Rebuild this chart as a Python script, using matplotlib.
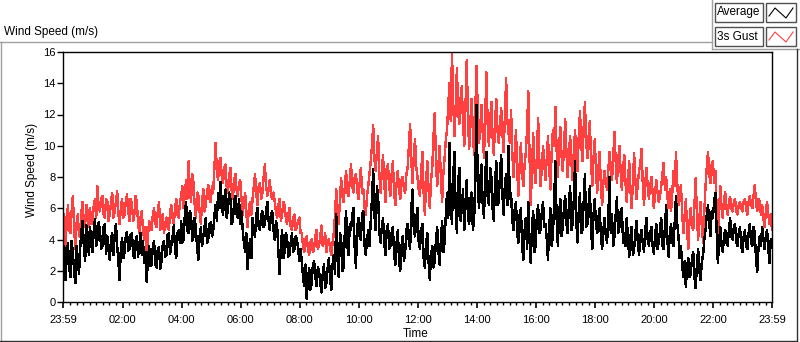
import matplotlib
matplotlib.use("Agg")
import matplotlib.pyplot as plt
import numpy as np
from matplotlib.patches import Rectangle
from matplotlib.lines import Line2D

plt.rcParams['font.family'] = ['Liberation Sans', 'DejaVu Sans']

# readings on the 5-minute marks, 23:59 (previous day) to 23:59
average = [
    2.5, 1.4, 3.8, 1.6, 3.2, 1.2, 2.8, 3.5, 5.2, 2.6, 4.4, 4.8,
    3.2, 5.3, 4.0, 4.6, 3.6, 5.0, 4.2, 2.7, 4.4, 4.3, 3.6, 1.4,
    4.1, 3.2, 4.5, 3.4, 4.4, 2.8, 4.2, 3.6, 3.0, 2.5, 1.3, 3.6,
    2.4, 3.9, 2.2, 3.5, 2.6, 3.9, 3.0, 4.4, 3.6, 4.9, 2.8, 4.6,
    5.2, 4.0, 6.4, 4.4, 5.6, 4.2, 4.6, 2.7, 4.8, 4.2, 5.4, 4.0,
    5.1, 4.5, 6.2, 7.0, 7.7, 5.6, 7.2, 6.0, 6.6, 5.2, 6.8, 5.4,
    5.0, 4.6, 3.2, 2.1, 4.0, 5.4, 4.2, 6.0, 4.6, 5.8, 5.0, 6.4,
    4.6, 5.8, 4.0, 4.8, 1.8, 4.6, 3.2, 4.2, 3.0, 4.4, 3.4, 4.0,
    2.6, 2.6, 1.0, 0.2, 2.2, 1.2, 2.6, 1.0, 2.0, 0.6, 2.4, 1.2,
    2.8, 0.8, 3.0, 5.6, 1.6, 4.0, 2.2, 5.8, 3.0, 4.6, 6.0, 2.2,
    5.4, 4.0, 5.8, 3.0, 4.6, 5.2, 8.5, 4.6, 6.8, 3.8, 5.4, 3.0,
    5.0, 3.6, 4.8, 2.4, 4.6, 2.0, 4.2, 3.2, 5.0, 3.4, 7.2, 4.2,
    6.0, 3.4, 5.0, 2.2, 4.4, 1.4, 3.6, 2.6, 4.8, 2.4, 5.2, 3.8,
    7.0, 10.2, 5.0, 9.6, 4.4, 8.6, 6.0, 4.6, 7.8, 5.0, 7.0, 5.2,
    12.6, 6.0, 8.8, 5.4, 9.6, 6.2, 8.0, 5.2, 9.0, 6.4, 9.4, 5.6,
    8.2, 10.0, 7.0, 4.6, 6.4, 3.8, 6.0, 2.7, 5.4, 6.4, 2.5, 5.8,
    3.6, 6.2, 4.6, 6.4, 5.0, 2.7, 6.0, 4.2, 9.0, 3.6, 6.6, 4.8,
    6.8, 4.4, 7.4, 5.0, 9.0, 3.8, 7.0, 4.6, 8.2, 5.0, 7.4, 3.4,
    6.6, 4.4, 6.0, 3.4, 5.4, 3.8, 8.0, 5.6, 4.2, 6.7, 4.8, 6.0,
    4.4, 5.4, 2.9, 4.8, 3.4, 5.2, 3.0, 4.6, 3.2, 5.4, 3.6, 4.8,
    3.1, 5.0, 3.8, 5.4, 3.4, 6.2, 2.9, 5.0, 3.6, 6.8, 4.2, 3.6,
    1.6, 0.95, 2.8, 1.8, 3.2, 0.9, 3.4, 1.4, 3.0, 4.6, 6.2, 4.2,
    5.4, 7.0, 2.5, 4.8, 3.2, 4.6, 3.6, 5.4, 4.0, 5.0, 3.6, 4.8,
    3.2, 4.6, 3.4, 5.0, 3.6, 4.4, 1.9, 4.2, 4.8, 3.4, 4.6, 2.5,
    3.8,
]
# readings half way between the 5-minute marks
average_half = [
    3.6, 2.9, 2.2, 3.9, 2.0, 3.6, 1.8, 4.6, 3.4, 4.9, 3.0, 3.6,
    4.6, 3.6, 5.1, 3.4, 4.8, 3.1, 3.3, 4.0, 3.0, 5.0, 2.6, 3.4,
    2.8, 4.2, 3.3, 4.3, 3.0, 3.9, 2.9, 4.4, 3.9, 3.2, 2.7, 2.3,
    3.6, 2.4, 3.4, 2.1, 3.6, 2.9, 4.3, 3.1, 4.2, 3.4, 4.4, 3.8,
    3.8, 5.6, 4.6, 5.8, 3.9, 5.4, 3.4, 4.2, 3.6, 4.8, 3.8, 5.0,
    4.2, 5.6, 5.2, 6.0, 6.2, 6.6, 5.4, 7.0, 5.0, 6.4, 5.6, 6.6,
    5.8, 3.8, 4.4, 3.4, 2.8, 4.4, 5.6, 4.8, 5.6, 4.8, 5.8, 5.2,
    5.6, 4.6, 5.2, 3.2, 3.6, 2.8, 4.4, 2.9, 3.8, 3.2, 4.2, 3.4,
    3.4, 1.6, 2.4, 1.4, 0.8, 2.4, 1.6, 2.2, 1.2, 1.8, 0.9, 2.2,
    1.4, 2.4, 1.8, 2.8, 4.4, 2.0, 4.6, 3.6, 5.0, 5.6, 3.4, 4.8,
    4.2, 5.6, 3.6, 4.0, 3.6, 6.6, 5.6, 7.4, 4.4, 4.8, 3.8, 4.6,
    3.4, 4.4, 3.0, 3.8, 2.6, 3.6, 2.6, 4.6, 3.8, 6.0, 4.6, 5.4,
    3.8, 4.6, 2.8, 3.8, 2.6, 3.0, 2.2, 4.0, 3.2, 4.0, 3.2, 5.6,
    5.4, 6.2, 8.0, 6.0, 7.6, 5.2, 7.2, 6.4, 5.4, 6.6, 4.6, 8.4,
    7.2, 7.8, 6.2, 8.0, 6.8, 8.6, 6.0, 7.6, 6.2, 8.2, 6.8, 7.6,
    6.2, 6.6, 5.2, 6.0, 4.4, 5.6, 3.6, 4.6, 3.4, 4.0, 4.8, 3.2,
    5.6, 4.4, 5.8, 4.8, 4.0, 4.8, 3.6, 6.4, 5.4, 5.6, 4.2, 6.0,
    5.0, 6.2, 4.6, 6.6, 5.2, 5.8, 4.4, 6.4, 4.8, 6.2, 4.6, 5.6,
    5.0, 5.4, 4.2, 4.6, 4.2, 5.4, 4.4, 3.6, 5.6, 4.4, 5.8, 3.8,
    3.6, 4.0, 4.2, 3.0, 4.4, 3.8, 4.2, 3.8, 4.6, 4.0, 4.4, 3.6,
    4.2, 3.4, 4.6, 3.6, 4.8, 4.0, 4.4, 3.8, 5.2, 5.0, 2.8, 2.4,
    2.6, 2.2, 1.6, 2.8, 1.6, 2.4, 2.0, 2.6, 4.0, 5.6, 5.0, 5.8,
    6.4, 4.6, 3.8, 3.6, 4.2, 3.8, 4.6, 4.2, 4.8, 3.8, 4.4, 3.6,
    4.2, 3.6, 4.4, 3.8, 4.8, 2.8, 3.4, 3.6, 4.0, 4.2, 3.4, 4.0,
]
gust = [
    4.0, 3.6, 6.2, 4.4, 6.8, 3.4, 5.6, 4.6, 6.4, 5.0, 5.8, 6.0,
    5.2, 6.6, 7.4, 5.8, 6.8, 5.4, 6.4, 5.6, 7.0, 5.8, 7.1, 5.0,
    6.6, 5.6, 6.9, 5.2, 6.2, 5.6, 6.4, 4.4, 5.8, 4.0, 2.7, 5.2,
    4.6, 6.0, 4.8, 6.4, 5.2, 4.4, 5.4, 4.6, 6.2, 5.0, 6.6, 5.4,
    6.8, 6.0, 7.8, 9.0, 6.4, 7.6, 5.4, 6.8, 5.0, 7.2, 6.2, 7.5,
    6.4, 7.0, 10.2, 7.8, 9.2, 7.6, 8.8, 7.0, 8.6, 6.6, 8.2, 6.8,
    7.8, 5.6, 7.0, 4.8, 6.4, 6.6, 8.2, 6.2, 7.6, 7.0, 8.8, 6.8,
    7.8, 6.6, 6.4, 5.4, 6.6, 5.6, 6.2, 5.0, 6.0, 4.6, 5.6, 4.8,
    5.4, 4.4, 3.2, 4.2, 3.0, 4.0, 3.4, 4.6, 3.6, 4.9, 3.8, 3.2,
    4.0, 3.0, 4.4, 7.2, 5.0, 7.9, 6.4, 8.4, 6.8, 8.8, 7.0, 8.2,
    6.6, 8.6, 7.2, 5.6, 7.4, 9.0, 11.3, 8.4, 10.6, 7.0, 9.4, 6.4,
    8.8, 6.8, 9.0, 6.2, 8.4, 6.6, 8.0, 7.0, 8.6, 11.4, 7.6, 10.4,
    8.0, 6.8, 9.6, 5.6, 9.0, 6.0, 8.6, 12.1, 7.4, 10.0, 6.4, 9.2,
    11.0, 14.0, 16.0, 10.6, 15.0, 11.4, 13.8, 10.0, 15.5, 9.8, 13.0, 9.4,
    15.1, 10.2, 12.6, 9.2, 14.7, 10.0, 12.8, 9.4, 13.0, 10.2, 12.4, 9.6,
    14.3, 10.8, 12.3, 8.0, 11.0, 6.8, 10.2, 7.4, 9.6, 13.5, 6.2, 10.8,
    7.6, 11.8, 7.4, 10.0, 7.8, 10.6, 7.2, 11.0, 12.5, 8.0, 11.2, 8.4,
    11.7, 8.0, 10.6, 7.8, 11.0, 8.4, 12.2, 9.0, 12.8, 9.2, 11.6, 7.4,
    10.4, 7.0, 9.6, 6.2, 8.4, 7.2, 9.6, 7.8, 10.9, 7.6, 10.0, 7.2,
    9.4, 6.4, 9.0, 6.0, 9.5, 6.6, 8.4, 9.8, 6.2, 8.6, 6.6, 8.0,
    6.0, 7.8, 6.4, 7.4, 8.9, 8.0, 6.0, 5.8, 8.4, 9.6, 6.2, 7.5,
    4.4, 6.6, 3.4, 6.0, 4.6, 7.9, 4.0, 6.4, 3.8, 7.4, 9.6, 7.6,
    9.0, 8.4, 3.9, 7.4, 5.4, 7.0, 5.6, 6.7, 5.8, 6.6, 5.6, 6.4,
    5.8, 6.6, 5.6, 6.8, 6.0, 7.5, 5.8, 6.4, 6.2, 4.8, 6.4, 5.0,
    4.6,
]
gust_half = [
    5.6, 5.0, 4.6, 5.8, 4.8, 5.0, 4.2, 5.8, 4.8, 6.2, 4.8, 5.0,
    6.2, 5.4, 6.0, 6.6, 5.6, 6.6, 5.2, 6.4, 5.4, 6.4, 5.6, 6.0,
    5.4, 6.4, 5.8, 6.6, 5.2, 6.8, 5.0, 5.4, 4.6, 4.8, 4.2, 4.6,
    5.6, 5.0, 5.8, 4.6, 5.6, 5.0, 4.8, 5.8, 5.4, 6.0, 5.6, 6.4,
    7.4, 7.0, 6.6, 7.2, 8.2, 6.2, 7.0, 5.8, 6.4, 5.8, 7.0, 6.6,
    7.4, 8.6, 8.4, 9.0, 8.0, 8.6, 7.4, 8.0, 7.2, 7.8, 7.2, 7.6,
    6.6, 6.4, 5.6, 6.0, 5.6, 7.4, 7.0, 7.4, 6.6, 8.0, 7.4, 7.2,
    6.8, 7.0, 5.8, 6.2, 5.2, 6.4, 5.4, 5.6, 4.8, 5.4, 4.6, 5.2,
    4.4, 3.6, 4.0, 3.4, 3.8, 3.2, 4.2, 3.4, 4.2, 3.6, 4.4, 3.8,
    3.4, 3.8, 5.6, 5.6, 6.6, 6.8, 7.4, 7.0, 7.8, 7.4, 8.0, 7.2,
    7.6, 7.0, 6.0, 6.8, 8.2, 10.0, 9.2, 9.6, 8.2, 8.4, 7.6, 8.6,
    7.4, 8.2, 7.0, 7.6, 7.2, 7.8, 7.2, 8.2, 10.0, 9.0, 9.4, 8.6,
    7.2, 8.4, 7.0, 7.8, 7.2, 7.8, 10.6, 9.0, 8.8, 8.0, 8.2, 10.4,
    12.6, 11.6, 12.8, 12.4, 12.2, 13.0, 11.4, 12.6, 11.8, 11.6, 10.8, 12.4,
    12.0, 11.2, 10.8, 12.0, 11.4, 11.6, 10.6, 11.4, 11.0, 11.2, 10.8, 12.0,
    11.6, 10.2, 9.6, 9.4, 8.4, 8.8, 8.2, 8.8, 11.0, 9.4, 8.6, 8.4,
    9.4, 9.0, 8.6, 8.8, 9.2, 8.6, 9.6, 10.0, 9.8, 9.8, 9.4, 9.8,
    9.6, 9.4, 9.0, 9.6, 9.4, 10.6, 10.2, 11.2, 10.4, 10.6, 9.0, 9.2,
    8.4, 8.6, 7.4, 7.6, 7.6, 8.4, 8.6, 9.2, 9.0, 9.0, 8.4, 8.6,
    7.6, 7.8, 7.2, 7.8, 7.8, 7.6, 8.8, 7.6, 7.6, 7.4, 7.4, 7.0,
    7.0, 7.0, 6.8, 8.2, 7.2, 6.8, 7.2, 7.0, 7.4, 7.6, 6.8, 5.8,
    5.4, 4.6, 5.2, 4.8, 6.2, 5.6, 5.4, 4.8, 5.8, 8.6, 8.2, 8.8,
    7.6, 6.0, 5.8, 6.0, 6.6, 6.0, 6.4, 6.0, 6.4, 5.8, 6.2, 6.0,
    6.4, 6.0, 6.4, 6.2, 6.8, 6.4, 6.6, 5.6, 5.4, 5.8, 5.6, 5.6,
]

avg_all = np.empty(len(average) + len(average_half))
avg_all[0::2] = average
avg_all[1::2] = average_half
gust_all = np.empty(len(gust) + len(gust_half))
gust_all[0::2] = gust
gust_all[1::2] = gust_half
minutes = np.linspace(-1, 1439, len(avg_all))

tick_pos = [-1, 120, 240, 360, 480, 600, 720, 840, 960, 1080, 1200, 1320, 1439]
tick_labels = ['23:59', '02:00', '04:00', '06:00', '08:00', '10:00', '12:00',
               '14:00', '16:00', '18:00', '20:00', '22:00', '23:59']

W, H = 800, 342
fig = plt.figure(figsize=(W / 100, H / 100), dpi=100)

def fx(px):
    return px / W

def fy(py):
    return 1 - py / H

ax = fig.add_axes([fx(63), fy(302), fx(772 - 63), (302 - 52) / H])
ax.plot(minutes, gust_all, color='#ff4040', lw=1.0, antialiased=False)
ax.plot(minutes, avg_all, color='black', lw=1.0, antialiased=False)
ax.set_xlim(-1, 1439)
ax.set_ylim(0, 16)

ax.set_yticks(range(0, 17, 2))
ax.set_xticks(tick_pos)
ax.set_xticklabels(tick_labels)
minor = [m for m in np.arange(0, 1440, 120 / 9) if abs(m % 120) > 1 and abs(m % 120 - 120) > 1]
ax.set_xticks(minor, minor=True)
ax.tick_params(axis='y', length=4, width=1, pad=1.5, labelsize=8, colors='black')
ax.tick_params(axis='x', which='major', length=4.5, width=1.2, pad=5, labelsize=8)
ax.tick_params(axis='x', which='minor', length=2.5, width=1)
for s in ax.spines.values():
    s.set_color('black')
    s.set_linewidth(1)

fig.text(fx(4), fy(32.5), 'Wind Speed (m/s)', fontsize=8.5, ha='left', va='center')
fig.text(fx(31.5), fy(170), 'Wind Speed (m/s)', fontsize=8.5, rotation=90,
         ha='center', va='center')
fig.text(fx(416), fy(334), 'Time', fontsize=8.5, ha='center', va='center')

# outer frame
frame = [([0, 712], [42, 42]), ([712, 712], [0, 49]), ([712, 800], [49, 49]),
         ([0.5, 0.5], [42, 341])]
for xs, ys in frame:
    fig.add_artist(Line2D([fx(v) for v in xs], [fy(v) for v in ys], color='#a0a0a0', lw=1))
for xs, ys in [([0, 797], [341, 341]), ([797, 797], [49, 341])]:
    fig.add_artist(Line2D([fx(v) for v in xs], [fy(v) for v in ys], color='#303030', lw=1))

# legend
names = ['Average', '3s Gust']
colors = ['black', '#ff4040']
for k, (name, col) in enumerate(zip(names, colors)):
    y0 = 3 + k * 24
    fig.add_artist(Rectangle((fx(715), fy(y0 + 19)), fx(48), 19 / H, transform=fig.transFigure,
                             facecolor='white', edgecolor='#505050', lw=1))
    fig.add_artist(Rectangle((fx(766), fy(y0 + 19)), fx(30), 19 / H, transform=fig.transFigure,
                             facecolor='white', edgecolor='#505050', lw=1))
    fig.text(fx(717), fy(y0 + 9.5), name, fontsize=8.5, ha='left', va='center')
    zx = [769, 775, 786, 793]
    zy = [y0 + 13, y0 + 5, y0 + 15, y0 + 5]
    fig.add_artist(Line2D([fx(v) for v in zx], [fy(v) for v in zy], color=col, lw=0.8))

fig.savefig('out.png', dpi=100)
